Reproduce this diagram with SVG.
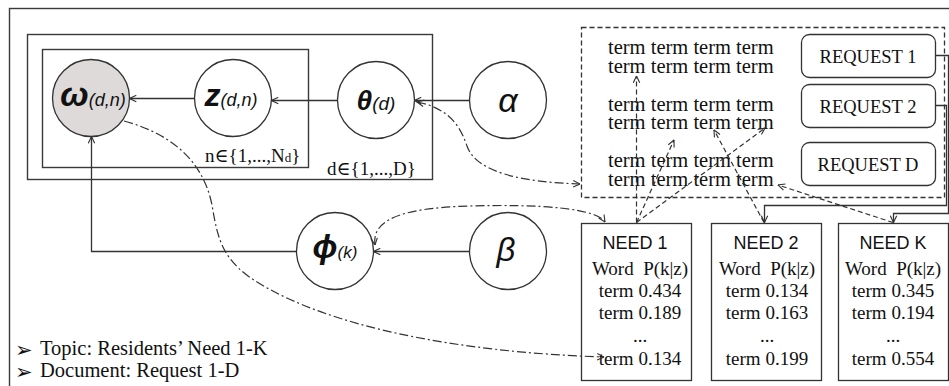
<svg xmlns="http://www.w3.org/2000/svg" width="949" height="386" viewBox="0 0 949 386">
  <style>
    .frame { fill: none; stroke: #3a3a3a; stroke-width: 1.4; }
    .node { fill: #ffffff; stroke: #333333; stroke-width: 1.3; }
    .obs { fill: #dedada; stroke: #333333; stroke-width: 1.3; }
    .box { fill: #ffffff; stroke: #333333; stroke-width: 1.3; }
    .dbox { fill: none; stroke: #333333; stroke-width: 1.3; stroke-dasharray: 5 3; }
    .solid { fill: none; stroke: #333333; stroke-width: 1.3; }
    .dash { fill: none; stroke: #333333; stroke-width: 1.2; stroke-dasharray: 5 3; }
    .dashdot { fill: none; stroke: #333333; stroke-width: 1.2; stroke-dasharray: 9 3 2 3; }
    .sym { font-family: "Liberation Sans", Arial, sans-serif; font-style: italic; fill: #111111; text-anchor: middle; }
    .serif { font-family: "Liberation Serif", "Times New Roman", "DejaVu Serif", serif; fill: #111111; }
    .sans { font-family: "Liberation Sans", Arial, sans-serif; fill: #111111; }
    .mid { text-anchor: middle; }
    .bullet { font-family: "DejaVu Sans", sans-serif; font-size: 21px; fill: #111111; }
  </style>
  <defs>
    <marker id="arr" viewBox="0 0 10 10" refX="9.5" refY="5" markerWidth="8" markerHeight="8" markerUnits="userSpaceOnUse" orient="auto-start-reverse">
      <path d="M1,1 L9.5,5 L1,9" fill="none" stroke="#333333" stroke-width="1.4"/>
    </marker>
  </defs>

  <!-- outer frame -->
  <rect class="frame" x="9.5" y="8.5" width="960" height="400"/>

  <!-- plates -->
  <g id="plate-d">
    <rect class="frame" x="27.5" y="34.5" width="405" height="145"/>
    <text class="serif" x="327" y="175" font-size="19">d∈{1,...,D}</text>
  </g>
  <g id="plate-n">
    <rect class="frame" x="42.5" y="49.5" width="266" height="118"/>
    <text class="serif" x="205" y="162" font-size="19">n∈{1,...,N<tspan font-size="13">d</tspan>}</text>
  </g>

  <!-- model nodes -->
  <g id="node-omega">
    <circle class="obs" cx="91" cy="98" r="38.5"/>
    <text class="sym" x="93" y="106"><tspan font-size="34" font-weight="bold">ω</tspan><tspan font-size="18">(d,n)</tspan></text>
  </g>
  <g id="node-z">
    <circle class="node" cx="233" cy="98" r="38.5"/>
    <text class="sym" x="231" y="106"><tspan font-size="32" font-weight="bold">z</tspan><tspan font-size="18">(d,n)</tspan></text>
  </g>
  <g id="node-theta">
    <circle class="node" cx="376" cy="100" r="38.5"/>
    <text class="sym" x="376" y="110"><tspan font-size="28" font-weight="bold">θ</tspan><tspan font-size="19">(d)</tspan></text>
  </g>
  <g id="node-alpha">
    <circle class="node" cx="508" cy="100" r="38.5"/>
    <text class="sym" x="508" y="112" font-size="34">α</text>
  </g>
  <g id="node-phi">
    <circle class="node" cx="335" cy="251" r="38.5"/>
    <text class="sym" x="335" y="258"><tspan font-size="33" font-weight="bold">ϕ</tspan><tspan font-size="17">(k)</tspan></text>
  </g>
  <g id="node-beta">
    <circle class="node" cx="508" cy="251" r="38.5"/>
    <text class="sym" x="506" y="261" font-size="33">β</text>
  </g>

  <!-- request documents: two lines of terms per request -->
  <g id="documents">
    <rect class="dbox" x="581.5" y="27.5" width="363" height="170"/>
    <g class="serif" font-size="20.5">
      <text x="608" y="54">term term term term<tspan x="608" y="73">term term term term</tspan></text>
      <text x="608" y="111">term term term term<tspan x="608" y="129">term term term term</tspan></text>
      <text x="608" y="167">term term term term<tspan x="608" y="186">term term term term</tspan></text>
    </g>
  </g>
  <g id="request-1">
    <rect class="box" x="801.5" y="34.5" width="134" height="43" rx="8"/>
    <text class="serif mid" x="868" y="63" font-size="18.5">REQUEST 1</text>
  </g>
  <g id="request-2">
    <rect class="box" x="801.5" y="84.5" width="134" height="43" rx="8"/>
    <text class="serif mid" x="868" y="113" font-size="18.5">REQUEST 2</text>
  </g>
  <g id="request-d">
    <rect class="box" x="801.5" y="142.5" width="134" height="43" rx="8"/>
    <text class="serif mid" x="868" y="171" font-size="18.5">REQUEST D</text>
  </g>

  <!-- topic word tables -->
  <g id="need-1">
    <rect class="box" x="581.5" y="223.5" width="110" height="157"/>
    <text class="sans mid" x="635" y="249" font-size="18">NEED 1</text>
    <g class="serif mid" font-size="19">
      <text x="640" y="275" xml:space="preserve">Word  P(k|z)</text>
      <text x="640" y="297">term 0.434</text>
      <text x="640" y="319">term 0.189</text>
      <text x="640" y="342">...</text>
      <text x="640" y="365">term 0.134</text>
    </g>
  </g>
  <g id="need-2">
    <rect class="box" x="711.5" y="223.5" width="110" height="157"/>
    <text class="sans mid" x="766" y="249" font-size="18">NEED 2</text>
    <g class="serif mid" font-size="19">
      <text x="767" y="275" xml:space="preserve">Word  P(k|z)</text>
      <text x="767" y="297">term 0.134</text>
      <text x="767" y="319">term 0.163</text>
      <text x="767" y="342">...</text>
      <text x="767" y="365">term 0.199</text>
    </g>
  </g>
  <g id="need-k">
    <rect class="box" x="838.5" y="223.5" width="110" height="157"/>
    <text class="sans mid" x="893" y="249" font-size="18">NEED K</text>
    <g class="serif mid" font-size="19">
      <text x="893" y="275" xml:space="preserve">Word  P(k|z)</text>
      <text x="893" y="297">term 0.345</text>
      <text x="893" y="319">term 0.194</text>
      <text x="893" y="342">...</text>
      <text x="893" y="365">term 0.554</text>
    </g>
  </g>

  <!-- legend -->
  <g id="legend" class="serif" font-size="20.5">
    <text class="bullet" x="15" y="357">➢</text>
    <text x="40" y="355">Topic: Residents’ Need 1-K</text>
    <text class="bullet" x="15" y="379">➢</text>
    <text x="40" y="377">Document: Request 1-D</text>
  </g>

  <!-- connectors -->
  <g id="connectors">
    <!-- generative edges -->
    <line class="solid" x1="194.5" y1="98.5" x2="129.5" y2="98.5" marker-end="url(#arr)"/>
    <line class="solid" x1="337.5" y1="100.5" x2="271.5" y2="100.5" marker-end="url(#arr)"/>
    <line class="solid" x1="469.5" y1="100.5" x2="414.5" y2="100.5" marker-end="url(#arr)"/>
    <line class="solid" x1="469.5" y1="251.5" x2="373.5" y2="251.5" marker-end="url(#arr)"/>
    <path class="solid" d="M296.5,251.5 H91.5 V136.5" marker-end="url(#arr)"/>

    <!-- correspondences -->
    <path class="dashdot" d="M124,121 C176,135 204,165 212,205 C218,240 222,262 262,285 C330,325 450,352 604,357" marker-end="url(#arr)"/>
    <path class="dashdot" d="M417,102 C448,108 460,125 467,146 C476,172 520,182 580,184" marker-start="url(#arr)" marker-end="url(#arr)"/>
    <path class="dashdot" d="M375,245 C372,222 395,208 470,206 C540,204 596,208 605,222" marker-start="url(#arr)" marker-end="url(#arr)"/>

    <!-- word assignments -->
    <line class="dash" x1="636.5" y1="222.5" x2="636.5" y2="76" marker-end="url(#arr)"/>
    <line class="dash" x1="636.5" y1="222.5" x2="674" y2="140" marker-end="url(#arr)"/>
    <line class="dash" x1="636.5" y1="222.5" x2="765" y2="128" marker-end="url(#arr)"/>
    <line class="dash" x1="764" y1="222.5" x2="714" y2="130" marker-end="url(#arr)"/>
    <line class="dash" x1="893" y1="222.5" x2="778" y2="185" marker-end="url(#arr)"/>

    <!-- request to need links -->
    <path class="solid" d="M935.5,105.5 H946.5 V205.5 H764.5 V222.5" marker-end="url(#arr)"/>
    <path class="solid" d="M935.5,55.5 H948.5 V213.5 H893.5 V222.5" marker-end="url(#arr)"/>
  </g>
</svg>
